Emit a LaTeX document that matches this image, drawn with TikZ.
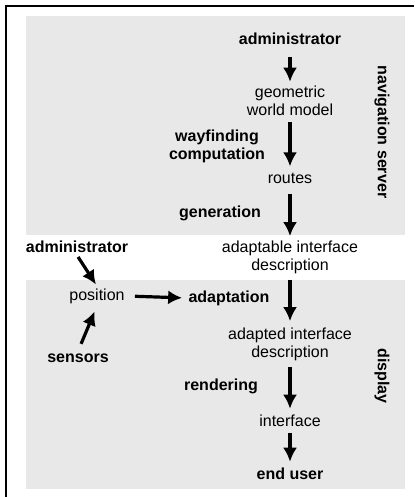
\documentclass[tikz,border=0pt]{standalone}
\usepackage{fontspec}
\setmainfont{Liberation Sans}
\usepackage{tikz}
\usetikzlibrary{arrows.meta}
\tikzset{>={Latex[length=7pt,width=7pt]}}
\definecolor{panel}{gray}{0.91}
\tikzset{
  item/.style={align=center,inner sep=1pt,font=\fontsize{8}{9}\selectfont},
  actor/.style={item,font=\fontsize{8}{9}\selectfont\bfseries},
  flow/.style={->,line width=1.6pt},
}

\begin{document}
\begin{tikzpicture}[x=0.5pt,y=-0.5pt]
		\useasboundingbox (0,0) rectangle (414,497);
		\fill[panel] (26,16) rectangle (405,235);
		\fill[panel] (26,280) rectangle (405,489);
		\draw[line width=1pt] (6,497) -- (6,6) -- (414,6);
		% server side
		\node[actor] (admin) at (290,39) {administrator};
		\node[item] (world) at (290,101) {geometric\\world model};
		\node[actor] (wayfind) at (217,146) {wayfinding\\computation};
		\node[item] (routes) at (290,178) {routes};
		\node[actor] (gen) at (220,213) {generation};
		\node[item] (aid) at (290,257) {adaptable interface\\description};
		\node[actor,rotate=-90] (server) at (382,132) {navigation server};
		% display side
		\node[actor] (admin2) at (77,247) {administrator};
		\node[item] (pos) at (97,296) {position};
		\node[actor] (sensors) at (78,358) {sensors};
		\node[actor] (adapt) at (229,298) {adaptation};
		\node[item] (adapted) at (290,344) {adapted interface\\description};
		\node[actor] (render) at (221,386) {rendering};
		\node[item] (iface) at (290,421) {interface};
		\node[actor] (user) at (290,474) {end user};
		\node[actor,rotate=-90] (disp) at (382,376) {display};
		% arrows
		\draw[flow,shorten <=5pt,shorten >=1pt] (admin) -- (world);
		\draw[flow,shorten <=2pt,shorten >=2pt] (world) -- (routes);
		\draw[flow,shorten <=4pt,shorten >=1pt] (routes) -- (aid);
		\draw[flow,shorten <=2pt,shorten >=2pt] (aid) -- (adapted);
		\draw[flow,shorten <=2pt,shorten >=2pt] (adapted) -- (iface);
		\draw[flow,shorten <=2pt,shorten >=2pt] (iface) -- (user);
		\draw[flow,shorten <=4pt,shorten >=2pt] (pos.east) -- (adapt.west);
		\draw[flow,shorten <=1pt,shorten >=1pt] (admin2.south) -- (pos.north);
		\draw[flow,shorten <=4pt,shorten >=3pt] (sensors.north) -- (pos.south);
	\end{tikzpicture}
\end{document}
